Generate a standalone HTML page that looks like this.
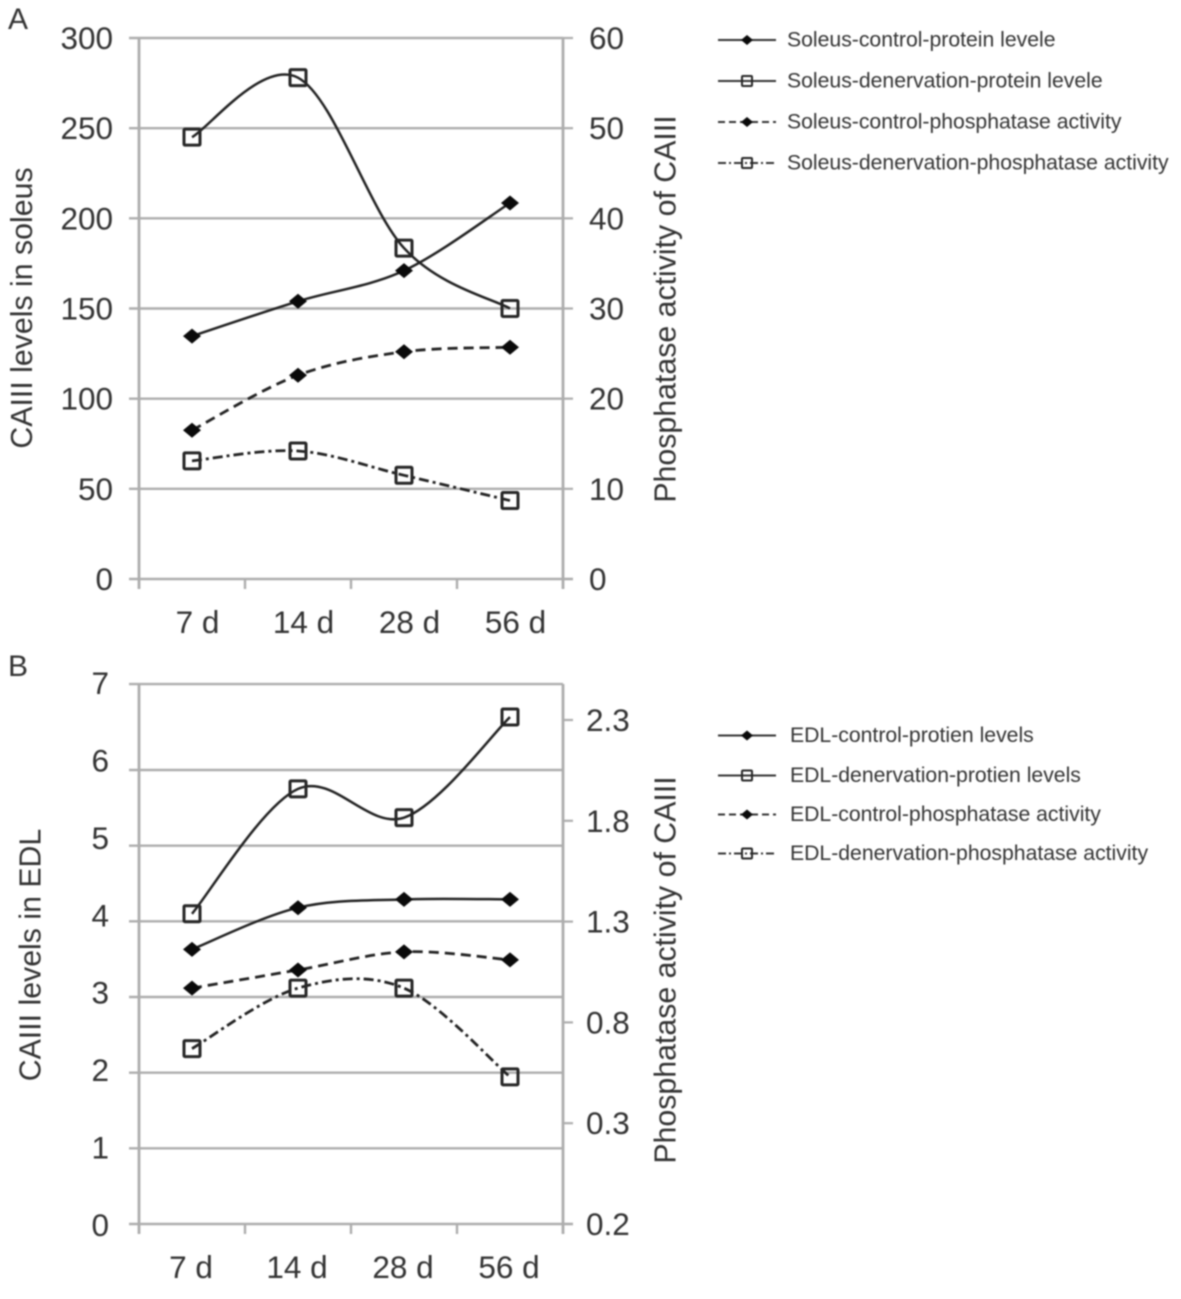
<!DOCTYPE html>
<html>
<head>
<meta charset="utf-8">
<title>CAIII levels and phosphatase activity</title>
<style>
html,body{margin:0;padding:0;background:#fff;width:1181px;height:1299px;overflow:hidden}
svg{display:block;filter:blur(0.7px)}
text{font-family:"Liberation Sans",sans-serif;fill:#333}
</style>
</head>
<body>
<svg id="chart" width="1181" height="1299" viewBox="0 0 1181 1299" xmlns="http://www.w3.org/2000/svg"></svg>
<script>
// ---- Shared data ----
const categories = ['7 d', '14 d', '28 d', '56 d'];

// ---- Panel A data ----
const leftGridA = [0, 50, 100, 150, 200, 250, 300];
const leftLabelsA = [0, 50, 100, 150, 200, 250, 300];
const rightTicksA = [0, 10, 20, 30, 40, 50, 60];
const rightTickLabelsA = ['0', '10', '20', '30', '40', '50', '60'];
const soleusControlProtein = [134.7, 154, 171, 208.5];
const soleusDenervationProtein = [245, 278, 183.5, 150];
const soleusControlPhosphatase = [16.5, 22.6, 25.2, 25.7];
const soleusDenervationPhosphatase = [13.1, 14.2, 11.5, 8.7];

// ---- Panel B data ----
const leftGridB = [0, 1, 2, 3, 4, 5, 6, 7.136];
const leftLabelsB = [0, 1, 2, 3, 4, 5, 6, 7];
const rightTicksB = [-0.2, 0.3, 0.8, 1.3, 1.8, 2.3];
const rightTickLabelsB = ['0.2', '0.3', '0.8', '1.3', '1.8', '2.3'];
const edlControlProtein = [3.63, 4.18, 4.29, 4.29];
const edlDenervationProtein = [4.1, 5.75, 5.37, 6.7];
const edlControlPhosphatase = [0.97, 1.06, 1.15, 1.11];
const edlDenervationPhosphatase = [0.67, 0.97, 0.97, 0.53];

// ---- Legend labels ----
const legendLabelsA = ['Soleus-control-protein levele', 'Soleus-denervation-protein levele', 'Soleus-control-phosphatase activity', 'Soleus-denervation-phosphatase activity'];
const legendLabelsB = ['EDL-control-protien levels', 'EDL-denervation-protien levels', 'EDL-control-phosphatase activity', 'EDL-denervation-phosphatase activity'];

const NS = 'http://www.w3.org/2000/svg';
const svg = document.getElementById('chart');
const GRID = '#adadad';
const INK = '#222';
const PLOT_LEFT = 139;
const PLOT_RIGHT = 563;
const TICK_LEN = 10;
const DASHED = '10 6';
const DASHDOT = '10 4 3 4';

function mk(tag, props, parent) {
  const el = document.createElementNS(NS, tag);
  for (const k in props) el.setAttribute(k, props[k]);
  (parent || svg).appendChild(el);
  return el;
}

function linear(d0, d1, r0, r1) {
  return function (v) { return r0 + (v - d0) * (r1 - r0) / (d1 - d0); };
}

// Category axis: centre of each band between PLOT_LEFT and PLOT_RIGHT
function xBand(i) {
  const band = (PLOT_RIGHT - PLOT_LEFT) / categories.length;
  return PLOT_LEFT + band * (i + 0.5);
}

// Spreadsheet-style smoothed line through points
function smoothPath(pts) {
  let d = 'M' + pts[0][0] + ' ' + pts[0][1];
  for (let i = 0; i < pts.length - 1; i++) {
    const p0 = pts[Math.max(i - 1, 0)];
    const p1 = pts[i];
    const p2 = pts[i + 1];
    const p3 = pts[Math.min(i + 2, pts.length - 1)];
    const c1x = p1[0] + (p2[0] - p0[0]) / 6;
    const c1y = p1[1] + (p2[1] - p0[1]) / 6;
    const c2x = p2[0] - (p3[0] - p1[0]) / 6;
    const c2y = p2[1] - (p3[1] - p1[1]) / 6;
    d += 'C' + c1x + ' ' + c1y + ' ' + c2x + ' ' + c2y + ' ' + p2[0] + ' ' + p2[1];
  }
  return d;
}

function drawDiamond(group, x, y, rx, ry) {
  const m = mk('polygon', {
    points: x + ',' + (y - ry) + ' ' + (x + rx) + ',' + y + ' ' + x + ',' + (y + ry) + ' ' + (x - rx) + ',' + y,
    fill: '#0a0a0a'
  }, group);
  
  
}

function drawSquare(group, x, y, s, sw) {
  const m = mk('rect', {
    x: x - s / 2, y: y - s / 2, width: s, height: s,
    fill: 'none', stroke: '#262626', 'stroke-width': sw, rx: 1
  }, group);
  
  
}

function drawText(str, x, y, size, anchor, name, rotate) {
  const t = mk('text', {x: x, y: y, 'font-size': size, 'text-anchor': anchor});
  if (rotate) t.setAttribute('transform', 'rotate(-90 ' + x + ' ' + y + ')');
  t.textContent = str;
  
  
  return t;
}

function drawSeries(name, values, scale, dash, marker) {
  const g = mk('g', {});
  
  
  const pts = values.map(function (v, i) { return [xBand(i), scale(v)]; });
  const attrs = {d: smoothPath(pts), fill: 'none', stroke: INK, 'stroke-width': dash ? 2.8 : 2.5};
  if (dash) attrs['stroke-dasharray'] = dash;
  const line = mk('path', attrs, g);
  
  
  pts.forEach(function (p) {
    if (marker === 'diamond') drawDiamond(g, p[0], p[1], 9, 7.5);
    else drawSquare(g, p[0], p[1], 16, 3);
  });
}

function drawLegendEntry(label, y, textX, dash, marker) {
  const g = mk('g', {});
  
  
  const attrs = {x1: 718, x2: 776, y1: y, y2: y, stroke: '#333', 'stroke-width': 2};
  if (dash) attrs['stroke-dasharray'] = dash === DASHED ? '7 4' : '8 3 2 3';
  const ln = mk('line', attrs, g);
  
  
  if (marker === 'diamond') drawDiamond(g, 747, y, 6, 5);
  else drawSquare(g, 747, y, 10, 2);
  const t = mk('text', {x: textX, y: y + 6.5, 'font-size': 21.2}, g);
  t.textContent = label;
  
  
}

function drawFrame(panel) {
  const yL = panel.yLeft;
  const yR = panel.yRight;
  const bottom = panel.bottom;
  const top = panel.top;
  panel.leftGrid.forEach(function (v) {
    const y = yL(v);
    const isBase = v === 0;
    const g = mk('line', {x1: PLOT_LEFT - TICK_LEN, x2: PLOT_RIGHT + (isBase ? TICK_LEN : 0), y1: y, y2: y, stroke: GRID, 'stroke-width': 2.4});
    
    
  });
  panel.leftLabels.forEach(function (v) {
    drawText(String(v), panel.leftLabelX, panel.yLeftLabel(v) + 11, 31.5, 'end', 'left-tick-label');
  });
  panel.rightTicks.forEach(function (v, i) {
    const y = yR(v);
    const tk = mk('line', {x1: PLOT_RIGHT, x2: PLOT_RIGHT + TICK_LEN, y1: y, y2: y, stroke: GRID, 'stroke-width': 2.2});
    
    
    drawText(panel.rightLabels[i], panel.rightLabelX, y + 11, 31.5, 'start', 'right-tick-label');
  });
  const la = mk('line', {x1: PLOT_LEFT, x2: PLOT_LEFT, y1: top, y2: bottom + TICK_LEN, stroke: GRID, 'stroke-width': 2.8});
  
  
  const ra = mk('line', {x1: PLOT_RIGHT, x2: PLOT_RIGHT, y1: top, y2: bottom + TICK_LEN, stroke: GRID, 'stroke-width': 2.8});
  
  
  for (let i = 1; i < categories.length; i++) {
    const band = (PLOT_RIGHT - PLOT_LEFT) / categories.length;
    const x = PLOT_LEFT + band * i;
    const tk = mk('line', {x1: x, x2: x, y1: bottom, y2: bottom + TICK_LEN, stroke: GRID, 'stroke-width': 2.4});
    
    
  }
  categories.forEach(function (c, i) {
    drawText(c, xBand(i) + panel.labelShift, panel.labelY, 31.5, 'middle', 'x-tick-label');
  });
}

// ---- Panel A ----
const panelA = {
  top: 38, bottom: 579,
  yLeft: linear(0, 300, 579, 38),
  yLeftLabel: linear(0, 300, 579, 38),
  yRight: linear(0, 60, 579, 38),
  leftGrid: leftGridA,
  leftLabels: leftLabelsA,
  rightTicks: rightTicksA,
  rightLabels: rightTickLabelsA,
  leftLabelX: 113,
  rightLabelX: 589,
  labelShift: 5.5,
  labelY: 633
};
// ---- Panel B ----
const panelB = {
  top: 684, bottom: 1224,
  yLeft: linear(0, 6, 1224, 770),
  yLeftLabel: linear(0, 7, 1225, 683),
  yRight: linear(-0.2, 2.3, 1224, 720),
  leftGrid: leftGridB,
  leftLabels: leftLabelsB,
  rightTicks: rightTicksB,
  rightLabels: rightTickLabelsB,
  leftLabelX: 109,
  rightLabelX: 586,
  labelShift: -1,
  labelY: 1278
};

drawFrame(panelA);
drawFrame(panelB);

drawSeries('soleus-control-protein', soleusControlProtein, panelA.yLeft, null, 'diamond');
drawSeries('soleus-denervation-protein', soleusDenervationProtein, panelA.yLeft, null, 'square');
drawSeries('soleus-control-phosphatase', soleusControlPhosphatase, panelA.yRight, DASHED, 'diamond');
drawSeries('soleus-denervation-phosphatase', soleusDenervationPhosphatase, panelA.yRight, DASHDOT, 'square');

drawSeries('edl-control-protein', edlControlProtein, panelB.yLeft, null, 'diamond');
drawSeries('edl-denervation-protein', edlDenervationProtein, panelB.yLeft, null, 'square');
drawSeries('edl-control-phosphatase', edlControlPhosphatase, panelB.yRight, DASHED, 'diamond');
drawSeries('edl-denervation-phosphatase', edlDenervationPhosphatase, panelB.yRight, DASHDOT, 'square');

drawText('A', 8, 29, 30, 'start', 'panel-a-label');
drawText('B', 8, 676, 30, 'start', 'panel-b-label');

drawText('CAIII levels in soleus', 32, 308, 30.3, 'middle', 'y-axis-title-left-a', true);
drawText('Phosphatase activity of CAIII', 675.5, 309, 30.3, 'middle', 'y-axis-title-right-a', true);
drawText('CAIII levels in EDL', 40.5, 955, 30.3, 'middle', 'y-axis-title-left-b', true);
drawText('Phosphatase activity of CAIII', 675.5, 970, 30.3, 'middle', 'y-axis-title-right-b', true);

const legendStylesDash = [null, null, DASHED, DASHDOT];
const legendStylesMarker = ['diamond', 'square', 'diamond', 'square'];
const legendYA = [40, 81, 122, 163];
const legendYB = [735.5, 775.5, 814.5, 853.5];
legendLabelsA.forEach(function (l, i) { drawLegendEntry(l, legendYA[i], 787, legendStylesDash[i], legendStylesMarker[i]); });
legendLabelsB.forEach(function (l, i) { drawLegendEntry(l, legendYB[i], 790, legendStylesDash[i], legendStylesMarker[i]); });
</script>
</body>
</html>
